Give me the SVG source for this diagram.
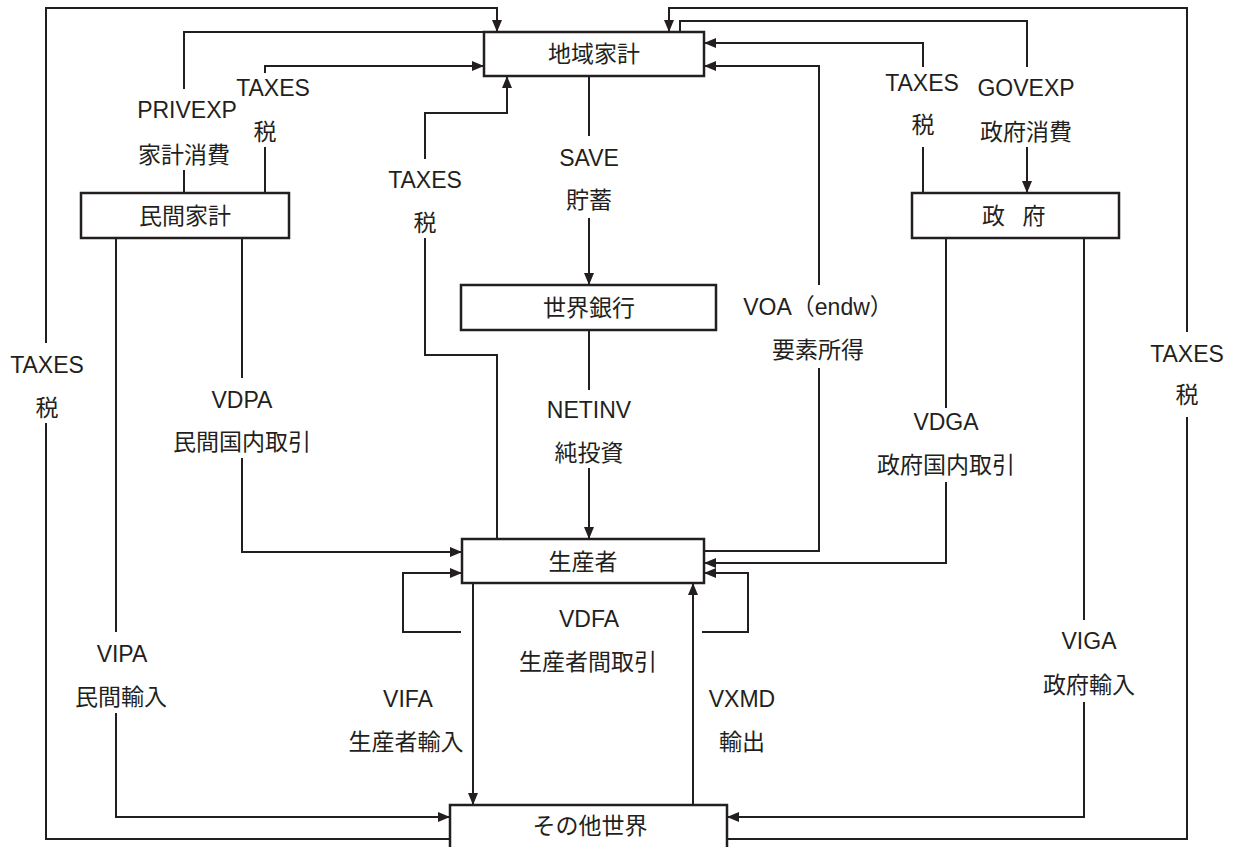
<svg xmlns="http://www.w3.org/2000/svg" width="1236" height="847" viewBox="0 0 1236 847">
<defs>
<marker id="ah" markerUnits="userSpaceOnUse" markerWidth="13" markerHeight="11" refX="12" refY="5" orient="auto">
<path d="M0,0 L12,5 L0,10 z" fill="#231f20"/>
</marker>
<style>
.box{fill:#fff;stroke:#231f20;stroke-width:2.5}
.ln{fill:none;stroke:#231f20;stroke-width:2}
.ar{fill:none;stroke:#231f20;stroke-width:2;marker-end:url(#ah)}
text{font-family:"Liberation Sans","Noto Sans CJK JP",sans-serif;font-size:23px;fill:#231f20;text-anchor:middle}
.j{font-family:"Noto Sans CJK JP",sans-serif;font-size:23px}
</style>
</defs>
<rect width="1236" height="847" fill="#fff"/>
<g id="connectors">
<path class="ln" d="M450,839 H46 V423"/>
<path class="ar" d="M46,343 V8 H497 V32"/>
<path class="ln" d="M727,839 H1187 V417"/>
<path class="ar" d="M1187,332 V8 H669 V32"/>
<path class="ln" d="M184,193 V170"/>
<path class="ln" d="M184,89 V32 H484"/>
<path class="ln" d="M265,193 V147"/>
<path class="ar" d="M265,73 V66 H484"/>
<path class="ln" d="M497,539 V355 H425 V238"/>
<path class="ar" d="M425,159 V113 H507 V76"/>
<path class="ln" d="M589,76 V136"/>
<path class="ar" d="M589,218 V285"/>
<path class="ln" d="M589,330 V390"/>
<path class="ar" d="M589,468 V539"/>
<path class="ln" d="M704,551 H819 V368"/>
<path class="ar" d="M819,285 V66 H704"/>
<path class="ln" d="M923,193 V147"/>
<path class="ar" d="M923,67 V43 H704"/>
<path class="ln" d="M680,32 V21 H1027 V67"/>
<path class="ar" d="M1027,147 V193"/>
<path class="ln" d="M946,238 V408"/>
<path class="ar" d="M946,482 V563 H704"/>
<path class="ln" d="M1084,238 V620"/>
<path class="ar" d="M1084,702 V817 H727"/>
<path class="ln" d="M242,238 V378"/>
<path class="ar" d="M242,458 V552 H462"/>
<path class="ln" d="M116,238 V632"/>
<path class="ar" d="M116,713 V817 H450"/>
<path class="ar" d="M461,632 H403 V573 H462"/>
<path class="ar" d="M702,632 H748 V573 H704"/>
<path class="ar" d="M473,583 V805"/>
<path class="ar" d="M693,805 V583"/>
</g>
<g id="labels">
<text x="187" y="118">PRIVEXP</text>
<text class="j" x="184" y="163">家計消費</text>
<text x="273" y="96">TAXES</text>
<text class="j" x="265" y="140">税</text>
<text x="425" y="188">TAXES</text>
<text class="j" x="425" y="231">税</text>
<text x="589" y="166">SAVE</text>
<text class="j" x="589" y="208">貯蓄</text>
<text x="922" y="91">TAXES</text>
<text class="j" x="923" y="133">税</text>
<text x="1026" y="96">GOVEXP</text>
<text class="j" x="1026" y="140">政府消費</text>
<text x="818" y="315">VOA<tspan class="j">（</tspan>endw<tspan class="j">）</tspan></text>
<text class="j" x="818" y="358">要素所得</text>
<text x="589" y="418">NETINV</text>
<text class="j" x="589" y="461">純投資</text>
<text x="47" y="373">TAXES</text>
<text class="j" x="47" y="416">税</text>
<text x="242" y="408">VDPA</text>
<text class="j" x="242" y="450">民間国内取引</text>
<text x="946" y="430">VDGA</text>
<text class="j" x="946" y="473">政府国内取引</text>
<text x="1187" y="362">TAXES</text>
<text class="j" x="1187" y="403">税</text>
<text x="589" y="627">VDFA</text>
<text class="j" x="588" y="670">生産者間取引</text>
<text x="122" y="662">VIPA</text>
<text class="j" x="121" y="705">民間輸入</text>
<text x="408" y="707">VIFA</text>
<text class="j" x="406" y="750">生産者輸入</text>
<text x="742" y="707">VXMD</text>
<text class="j" x="742" y="750">輸出</text>
<text x="1089" y="649">VIGA</text>
<text class="j" x="1089" y="693">政府輸入</text>
</g>
<g id="node-chiiki">
<rect class="box" x="484" y="32" width="220" height="44"/>
<text class="j" x="594" y="62">地域家計</text>
</g>
<g id="node-minkan">
<rect class="box" x="81" y="193" width="208" height="45"/>
<text class="j" x="185" y="224">民間家計</text>
</g>
<g id="node-seifu">
<rect class="box" x="912" y="193" width="207" height="45"/>
<text class="j" y="224"><tspan x="996">政</tspan> <tspan x="1034">府</tspan></text>
</g>
<g id="node-bank">
<rect class="box" x="461" y="285" width="255" height="45"/>
<text class="j" x="589" y="316">世界銀行</text>
</g>
<g id="node-producer">
<rect class="box" x="462" y="539" width="242" height="44"/>
<text class="j" x="583" y="570">生産者</text>
</g>
<g id="node-row">
<rect class="box" x="450" y="805" width="277" height="60"/>
<text class="j" x="590" y="834">その他世界</text>
</g>
</svg>
